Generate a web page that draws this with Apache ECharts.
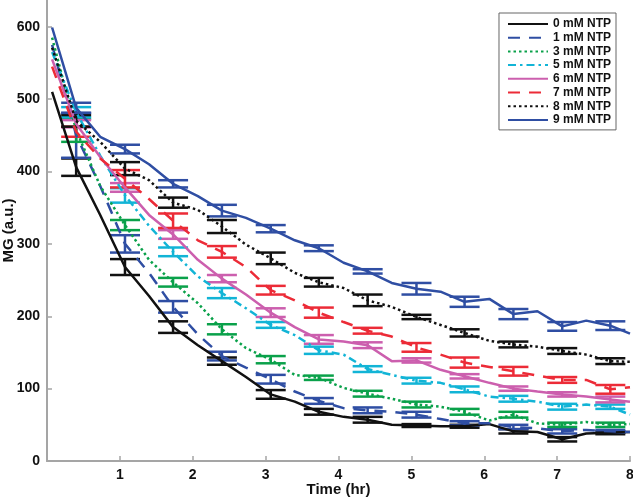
<!DOCTYPE html>
<html>
<head>
<meta charset="utf-8">
<script src="https://cdn.jsdelivr.net/npm/echarts@6/dist/echarts.min.js"></script>
<style>
html, body { margin: 0; padding: 0; background: #fff; }
#chart { width: 633px; height: 498px; }
</style>
</head>
<body>
<div id="chart"></div>
<script>
// sampling times (hr); error bars sit on every second sample
const times = [0.07, 0.4, 0.73, 1.07, 1.4, 1.73, 2.07, 2.4, 2.73, 3.07, 3.4, 3.73, 4.07,
  4.4, 4.73, 5.07, 5.4, 5.73, 6.07, 6.4, 6.73, 7.07, 7.4, 7.73, 8.0]

const mg0 = [510, 406, 340, 268, 228, 185, 160, 138, 116, 92, 82, 68, 61, 57, 50, 49, 48, 48, 51, 41, 40, 30, 38, 39, 40]
const mg1 = [575, 450, 380, 300, 260, 213, 175, 145, 129, 113, 96, 83, 73, 70, 68, 64, 58, 52, 52, 47, 45, 41, 43, 41, 40]
const mg3 = [585, 457, 380, 326, 278, 247, 218, 182, 156, 140, 119, 115, 101, 93, 86, 78, 75, 68, 56, 64, 52, 50, 54, 50, 51]
const mg5 = [565, 482, 422, 367, 325, 289, 255, 232, 211, 188, 174, 153, 147, 127, 119, 111, 108, 99, 89, 86, 82, 75, 78, 75, 64]
const mg6 = [555, 466, 420, 378, 340, 313, 278, 252, 230, 205, 185, 168, 165, 160, 138, 139, 126, 117, 108, 100, 96, 92, 89, 85, 82]
const mg7 = [545, 455, 418, 390, 362, 332, 305, 289, 268, 236, 222, 205, 192, 180, 172, 157, 147, 136, 130, 124, 118, 112, 112, 99, 102]
const mg8 = [571, 470, 441, 404, 388, 357, 347, 324, 299, 280, 260, 247, 239, 222, 213, 199, 188, 177, 166, 161, 158, 152, 147, 138, 137]
const mg9 = [599, 488, 448, 431, 410, 383, 366, 346, 336, 321, 305, 294, 274, 262, 246, 238, 234, 220, 224, 203, 207, 186, 194, 187, 176]

// half-height of each error bar (one per bar, at samples 1, 3, 5, ...)
const err0 = [12, 11, 8, 5, 6, 4, 4, 2, 2, 3, 3, 2]
const err1 = [31, 12, 8, 6, 6, 4, 4, 4, 3, 3, 3, 2]
const err3 = [16, 7, 6, 7, 5, 3, 4, 4, 4, 4, 3, 3]
const err5 = [7, 10, 6, 7, 4, 5, 4, 4, 4, 4, 4, 3]
const err6 = [5, 6, 6, 5, 6, 6, 4, 3, 3, 3, 3, 4]
const err7 = [7, 12, 10, 8, 6, 7, 4, 6, 7, 6, 4, 6]
const err8 = [8, 9, 7, 9, 8, 6, 8, 3, 5, 4, 4, 4]
const err9 = [7, 6, 5, 8, 5, 4, 3, 8, 7, 7, 6, 6]

const names = ['0 mM NTP', '1 mM NTP', '3 mM NTP', '5 mM NTP', '6 mM NTP', '7 mM NTP', '8 mM NTP', '9 mM NTP']
const xTicks = [1, 2, 3, 4, 5, 6, 7, 8]

const values = [mg0, mg1, mg3, mg5, mg6, mg7, mg8, mg9]
const errors = [err0, err1, err3, err5, err6, err7, err8, err9]
const colors = ['#111111', '#2f4ea3', '#0aa14a', '#12b4d6', '#cc5fae', '#ec2b37', '#111111', '#2f4ea3']
const dashes = ['solid', [12, 9], [2.5, 3], [8, 4, 2.5, 4], 'solid', [12, 9], [2.5, 3], 'solid']

const font = "'Liberation Sans', Arial, Helvetica, sans-serif"

function renderErrorBar(params, api) {
  const x = api.value(0)
  const y = api.value(1)
  const e = api.value(2)
  const top = api.coord([x, y + e])
  const bot = api.coord([x, y - e])
  const half = 15
  const style = { stroke: api.visual('color'), lineWidth: 2.5 }
  return {
    type: 'group',
    children: [
      { type: 'line', shape: { x1: top[0], y1: top[1], x2: bot[0], y2: bot[1] }, style: style },
      { type: 'line', shape: { x1: top[0] - half, y1: top[1], x2: top[0] + half, y2: top[1] }, style: style },
      { type: 'line', shape: { x1: bot[0] - half, y1: bot[1], x2: bot[0] + half, y2: bot[1] }, style: style }
    ]
  }
}

const series = []
names.forEach((name, i) => {
  const v = values[i]
  series.push({
    name: 'bars ' + name,
    type: 'custom',
    renderItem: renderErrorBar,
    itemStyle: { color: colors[i] },
    encode: { x: 0, y: 1 },
    data: errors[i].map((e, j) => [times[2 * j + 1], v[2 * j + 1], e]),
    z: 2,
    silent: true
  })
})
names.forEach((name, i) => {
  series.push({
    name: name,
    type: 'line',
    symbol: 'none',
    color: colors[i],
    lineStyle: { color: colors[i], width: 2.5, type: dashes[i] },
    data: times.map((t, k) => [t, values[i][k]]),
    z: 3
  })
})

const chart = echarts.init(document.getElementById('chart'))
chart.setOption({
  animation: false,
  grid: { left: 47, right: 3, top: 0, bottom: 37, containLabel: false, outerBoundsMode: 'none' },
  legend: {
    data: names,
    orient: 'vertical',
    right: 17,
    top: 13,
    backgroundColor: '#fff',
    borderColor: '#666',
    borderWidth: 1,
    borderRadius: 0,
    padding: [5, 5, 4, 8],
    itemWidth: 40,
    itemHeight: 10,
    itemGap: 1.7,
    itemStyle: { opacity: 0 },
    textStyle: { fontFamily: font, fontWeight: 'bold', fontSize: 12, color: '#111' }
  },
  xAxis: {
    type: 'value',
    min: 0,
    max: 8,
    interval: 1,
    name: 'Time (hr)',
    nameLocation: 'middle',
    nameGap: 21,
    nameMoveOverlap: false,
    nameTextStyle: { fontFamily: font, fontWeight: 'bold', fontSize: 15, color: '#111' },
    axisLine: { lineStyle: { color: '#a5a5a5', width: 2 } },
    axisTick: { inside: true, length: 5, lineStyle: { color: '#a5a5a5', width: 1.5 } },
    axisLabel: {
      fontFamily: font, fontWeight: 'bold', fontSize: 14, color: '#111', margin: 7,
      formatter: v => (xTicks.indexOf(v) >= 0 ? String(v) : '')
    },
    splitLine: { show: false }
  },
  yAxis: {
    type: 'value',
    min: 0,
    max: 637,
    interval: 100,
    name: 'MG (a.u.)',
    nameLocation: 'middle',
    nameGap: 31,
    nameMoveOverlap: false,
    nameTextStyle: { fontFamily: font, fontWeight: 'bold', fontSize: 15, color: '#111' },
    axisLine: { show: true, lineStyle: { color: '#a5a5a5', width: 2 } },
    axisTick: { inside: true, length: 5, lineStyle: { color: '#a5a5a5', width: 1.5 } },
    axisLabel: { fontFamily: font, fontWeight: 'bold', fontSize: 14, color: '#111', margin: 7, showMaxLabel: false },
    splitLine: { show: false }
  },
  series: series
})
</script>
</body>
</html>
